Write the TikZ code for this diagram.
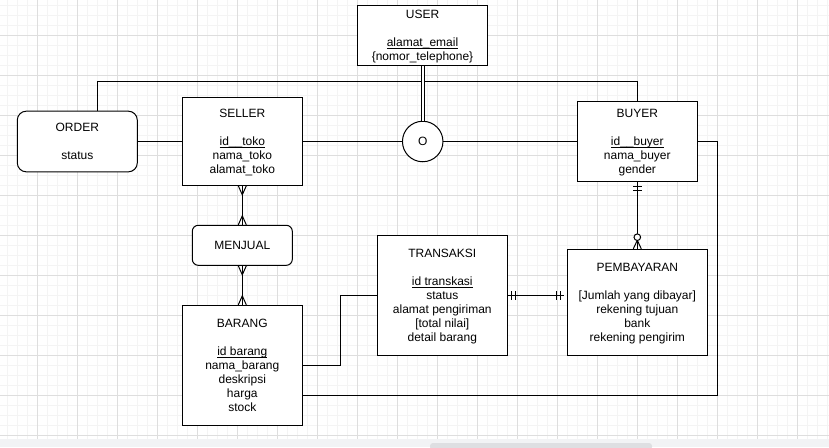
\documentclass[tikz,border=0pt]{standalone}
\usepackage{fontspec}
\setmainfont{Liberation Sans}
\usetikzlibrary{calc}
\definecolor{gridmajor}{RGB}{222,222,222}
\definecolor{gridminor}{RGB}{244,244,244}
\definecolor{stripbg}{RGB}{242,243,245}
\definecolor{thumbc}{RGB}{222,223,226}
\newcommand\lnstrut{\rule[-2.9pt]{0pt}{14pt}}
\newsavebox\ulxbox
\newcommand\ulx[1]{\sbox\ulxbox{#1}\rlap{\rule[-2.5pt]{\wd\ulxbox}{0.8pt}}\usebox\ulxbox}
\tikzset{
  minorgrid/.style={draw=gridminor, line width=0.8pt},
  majorgrid/.style={draw=gridmajor, line width=0.9pt},
  entity/.style={draw, line width=1pt, fill=white, align=center, inner sep=0pt,
    font=\fontsize{12}{14}\selectfont},
  relbox/.style={entity, rounded corners=#1},
  conn/.style={line width=1pt, line cap=butt},
  ermark/.style={line width=1pt}
}
\begin{document}
\begin{tikzpicture}[x=1pt,y=-1pt]
\useasboundingbox (0,0) rectangle (829,447);
% background grid
\foreach \i in {0,...,82} \draw[minorgrid] (7.3+10*\i,0) -- (7.3+10*\i,439);
\foreach \j in {0,...,43} \draw[minorgrid] (0,5+10*\j) -- (829,5+10*\j);
\foreach \i in {1,...,20} \draw[majorgrid] (-2.7+40*\i,0) -- (-2.7+40*\i,439);
\foreach \j in {0,...,10} \draw[majorgrid] (0,35+40*\j) -- (829,35+40*\j);
% bottom strip
\fill[stripbg] (0,439) rectangle (829,447);
\fill[thumbc, rounded corners=3pt] (430,443) rectangle (652,450);

% nodes
\node[entity, minimum width=130.4pt, minimum height=60pt] (user) at (422.5,35.3)
  {\lnstrut USER\\\lnstrut\\\lnstrut\ulx{alamat\_email}\\\lnstrut\{nomor\_telephone\}};
\node[relbox=9pt, minimum width=120pt, minimum height=60.7pt] (order) at (77.3,141.5)
  {\lnstrut ORDER\\\lnstrut\\\lnstrut status};
\node[entity, minimum width=120pt, minimum height=87.6pt] (seller) at (242.3,141.5)
  {\lnstrut SELLER\\\lnstrut\\\lnstrut\ulx{id\_\_toko}\\\lnstrut nama\_toko\\\lnstrut alamat\_toko};
\node[entity, circle, minimum size=40.5pt] (circ) at (422.7,141.5) {O};
\node[entity, minimum width=120pt, minimum height=80.4pt] (buyer) at (637.3,141.5)
  {\lnstrut BUYER\\\lnstrut\\\lnstrut\ulx{id\_\_buyer}\\\lnstrut nama\_buyer\\\lnstrut gender};
\node[relbox=6pt, minimum width=100pt, minimum height=40pt] (menjual) at (242.3,245.3)
  {\lnstrut MENJUAL};
\node[entity, minimum width=130pt, minimum height=120pt] (transaksi) at (442.3,295.3)
  {\lnstrut TRANSAKSI\\\lnstrut\\\lnstrut\ulx{id transkasi}\\\lnstrut status\\\lnstrut alamat pengiriman\\\lnstrut [total nilai]\\\lnstrut detail barang};
\node[entity, minimum width=140pt, minimum height=106pt] (pembayaran) at (637.3,302.3)
  {\lnstrut PEMBAYARAN\\\lnstrut\\\lnstrut [Jumlah yang dibayar]\\\lnstrut rekening tujuan\\\lnstrut bank\\\lnstrut rekening pengirim};
\node[entity, minimum width=120pt, minimum height=120pt] (barang) at (242.3,365.3)
  {\lnstrut BARANG\\\lnstrut\\\lnstrut\ulx{id barang}\\\lnstrut nama\_barang\\\lnstrut deskripsi\\\lnstrut harga\\\lnstrut stock};

\coordinate (topbar) at (0,81.3);
\coordinate (rightcorner) at (717.3,395);
\coordinate (bendx) at (340,0);
\coordinate (payend) at (564,295.3);

% connectors
\draw[conn] ([xshift=20pt]order.north) |- (buyer.north |- topbar) -- (buyer.north);
\draw[conn] (order.east) -- (seller.west);
\draw[conn] (seller.east) -- (circ.west);
\draw[conn] (circ.east) -- (buyer.west);
\draw[conn, double, double distance=2.4pt] (user.south -| circ.north) -- (circ.north);
\draw[conn] (buyer.east) -| (rightcorner) -- (barang.east |- rightcorner);
\draw[conn] (barang.east) -| (bendx |- transaksi.west) -- (transaksi.west);
\draw[conn] (transaksi.east) -- (payend);
\draw[conn] (seller.south) -- (menjual.north);
\draw[conn] (menjual.south) -- (barang.north);
\draw[conn] (buyer.south) -- (pembayaran.north);

% ER markers: many (crow's feet)
\draw[ermark] ($(seller.south)+(-4,0)$) -- ($(seller.south)+(0,9)$) -- ($(seller.south)+(4,0)$);
\draw[ermark] ($(menjual.north)+(-4,0)$) -- ($(menjual.north)+(0,-9)$) -- ($(menjual.north)+(4,0)$);
\draw[ermark] ($(menjual.south)+(-4,0)$) -- ($(menjual.south)+(0,9)$) -- ($(menjual.south)+(4,0)$);
\draw[ermark] ($(barang.north)+(-4,0)$) -- ($(barang.north)+(0,-9)$) -- ($(barang.north)+(4,0)$);
% mandatory one at BUYER
\draw[ermark] ($(buyer.south)+(-4.3,4)$) -- ($(buyer.south)+(4.3,4)$);
\draw[ermark] ($(buyer.south)+(-4.3,8)$) -- ($(buyer.south)+(4.3,8)$);
% zero or many at PEMBAYARAN
\draw[ermark] ($(pembayaran.north)+(-4,0)$) -- ($(pembayaran.north)+(0,-8.5)$) -- ($(pembayaran.north)+(4,0)$);
\draw[ermark, fill=white] ($(pembayaran.north)+(0,-11.6)$) circle[radius=3.3pt];
% mandatory one at both ends TRANSAKSI - PEMBAYARAN
\draw[ermark] ($(transaksi.east)+(4,-4.3)$) -- ($(transaksi.east)+(4,4.3)$);
\draw[ermark] ($(transaksi.east)+(8,-4.3)$) -- ($(transaksi.east)+(8,4.3)$);
\draw[ermark] ($(payend)+(-4,-4.3)$) -- ($(payend)+(-4,4.3)$);
\draw[ermark] ($(payend)+(-7.5,-4.3)$) -- ($(payend)+(-7.5,4.3)$);
\end{tikzpicture}
\end{document}
